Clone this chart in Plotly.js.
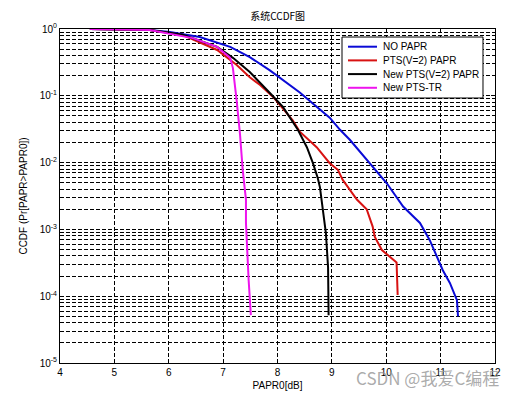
<!DOCTYPE html>
<html>
<head>
<meta charset="utf-8">
<script src="https://cdn.plot.ly/plotly-3.0.1.min.js"></script>
<style>html,body{margin:0;padding:0;background:#fff;}#chart{width:520px;height:395px;}</style>
</head>
<body>
<div id="chart"></div>
<script>
// NO PAPR
const noPaprX = [4.55, 5.2, 5.65, 6.02, 6.57, 7.13, 7.49, 7.86, 7.99, 8.41, 8.96, 9.15, 9.33, 9.64, 10.01, 10.31, 10.62, 10.80, 11.04, 11.17, 11.30, 11.32];
const noPaprY = [1, 0.995, 0.966, 0.90, 0.76, 0.54, 0.38, 0.24, 0.20, 0.112, 0.047, 0.031, 0.022, 0.011, 0.0049, 0.0022, 0.00125, 0.00069, 0.000245, 0.000158, 0.000087, 0.00005];
// PTS(V=2) PAPR
const ptsX = [4.55, 5.2, 5.65, 6.26, 6.89, 7.25, 7.49, 7.68, 7.92, 8.28, 8.41, 8.72, 8.96, 9.11, 9.20, 9.46, 9.55, 9.64, 9.75, 9.79, 9.92, 10.19, 10.21];
const ptsY = [1, 0.995, 0.966, 0.81, 0.485, 0.29, 0.19, 0.145, 0.096, 0.043, 0.029, 0.017, 0.0098, 0.0078, 0.0055, 0.0028, 0.0024, 0.0020, 0.0011, 0.00077, 0.00049, 0.00032, 0.000104];
// New PTS(V=2) PAPR
const newPtsX = [4.55, 5.2, 5.65, 6.26, 6.89, 7.18, 7.49, 7.86, 8.10, 8.375, 8.54, 8.65, 8.74, 8.78, 8.83, 8.89, 8.93, 8.94];
const newPtsY = [1, 0.995, 0.966, 0.82, 0.54, 0.37, 0.227, 0.11, 0.068, 0.031, 0.017, 0.0099, 0.0059, 0.0043, 0.0019, 0.00088, 0.00027, 0.000052];
// New PTS-TR
const trX = [4.55, 5.2, 5.65, 6.44, 6.89, 7.13, 7.18, 7.25, 7.31, 7.36, 7.42, 7.42, 7.44, 7.47, 7.51];
const trY = [1, 0.995, 0.966, 0.73, 0.54, 0.37, 0.26, 0.083, 0.027, 0.0078, 0.0028, 0.00125, 0.00049, 0.00017, 0.000052];

const seriesNames = ['NO PAPR', 'PTS(V=2) PAPR', 'New PTS(V=2) PAPR', 'New PTS-TR'];
const xTicks = [4, 5, 6, 7, 8, 9, 10, 11, 12];
const yTickVals = [1e-5, 1e-4, 1e-3, 1e-2, 1e-1, 1];
const yTickText = ['10<sup>-5</sup>', '10<sup>-4</sup>', '10<sup>-3</sup>', '10<sup>-2</sup>', '10<sup>-1</sup>', '10<sup>0</sup>'];
const yMinor = [];
for (let e = -5; e < 0; e++) for (let m = 2; m <= 9; m++) yMinor.push(m * Math.pow(10, e));

const colors = ['#0a0ad6', '#d81212', '#000000', '#ee14ee'];
const xs = [noPaprX, ptsX, newPtsX, trX];
const ys = [noPaprY, ptsY, newPtsY, trY];
const traces = xs.map((x, i) => ({
  x: x, y: ys[i], name: seriesNames[i], type: 'scatter', mode: 'lines',
  line: {color: colors[i], width: 2}, showlegend: false
}));

const gridDash = '4px,2px';
const font = {family: 'Liberation Sans, Arial, sans-serif', size: 10, color: '#000'};

// compact legend (box, sample lines, labels) in paper coordinates
const legBox = {x0: 0.6483, x1: 0.9724, y0: 0.7934, y1: 0.976};
const legRowY = [0.947, 0.906, 0.865, 0.824];
const shapes = [{type: 'rect', xref: 'paper', yref: 'paper', x0: legBox.x0, x1: legBox.x1, y0: legBox.y0, y1: legBox.y1,
  line: {color: '#000', width: 1}, fillcolor: '#fff', layer: 'above'}];
const annotations = [];
seriesNames.forEach((n, i) => {
  shapes.push({type: 'line', xref: 'paper', yref: 'paper', x0: 0.662, x1: 0.7287, y0: legRowY[i], y1: legRowY[i],
    line: {color: colors[i], width: 2}, layer: 'above'});
  annotations.push({text: n, xref: 'paper', yref: 'paper', x: 0.738, y: legRowY[i], xanchor: 'left', yanchor: 'middle',
    showarrow: false, font: font});
});
annotations.push({
  text: 'CSDN @我爱C编程', xref: 'paper', yref: 'paper', x: 0.8437, y: -0.042,
  xanchor: 'center', yanchor: 'middle', showarrow: false,
  font: {family: 'Noto Sans CJK SC, sans-serif', size: 17, color: 'rgba(150,150,150,0.8)'}
});

const layout = {
  width: 520, height: 395,
  margin: {l: 60, r: 25, t: 29, b: 32},
  paper_bgcolor: '#fff', plot_bgcolor: '#fff',
  font: font,
  title: {text: '系统CCDF图', font: {family: 'Noto Sans CJK SC, sans-serif', size: 10, color: '#000'}, x: 0.534, xanchor: 'center', y: 0.957, yanchor: 'middle'},
  xaxis: {
    range: [4, 12], tickvals: xTicks, ticktext: xTicks.map(String),
    showgrid: true, gridcolor: '#000', griddash: gridDash, gridwidth: 1,
    showline: true, linecolor: '#000', linewidth: 1, mirror: 'ticks',
    ticks: 'inside', ticklen: 4, tickcolor: '#000', zeroline: false,
    title: {text: 'PAPR0[dB]', font: font, standoff: 4}
  },
  yaxis: {
    type: 'log', range: [-5, 0], tickvals: yTickVals, ticktext: yTickText,
    showgrid: true, gridcolor: '#000', griddash: gridDash, gridwidth: 1,
    minor: {tickvals: yMinor, showgrid: true, gridcolor: '#000', griddash: gridDash, gridwidth: 1, ticks: 'inside', ticklen: 2, tickcolor: '#000'},
    showline: true, linecolor: '#000', linewidth: 1, mirror: 'ticks',
    ticks: 'inside', ticklen: 4, tickcolor: '#000', zeroline: false,
    title: {text: 'CCDF (Pr[PAPR>PAPR0])', font: font, standoff: 10}
  },
  showlegend: false,
  shapes: shapes,
  annotations: annotations
};
Plotly.newPlot('chart', traces, layout, {displayModeBar: false, staticPlot: true});
</script>
</body>
</html>
